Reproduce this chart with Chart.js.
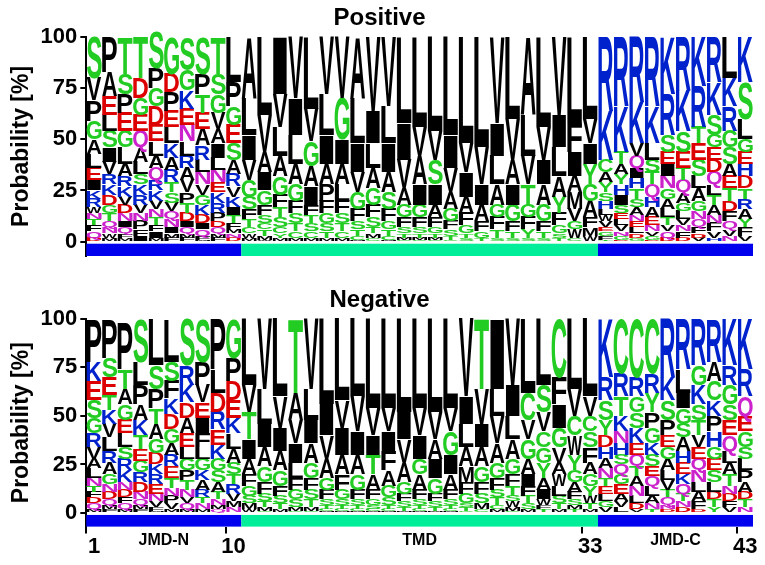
<!DOCTYPE html>
<html>
<head>
<meta charset="utf-8">
<script src="https://cdn.jsdelivr.net/npm/chart.js@4"></script>
<style>
  body { margin: 0; background: #fff; }
  .box { width: 765px; height: 282px; position: relative; }
</style>
</head>
<body>
<div class="box"><canvas id="pos"></canvas></div>
<div class="box"><canvas id="neg"></canvas></div>
<script>
const positions = Array.from({length: 43}, (_, i) => String(i + 1));
const tickLabels = ["1", "10", "33", "43"];
const regions = [["JMD-N", 1, 10, "#0000ee"], ["TMD", 11, 33, "#00ee99"], ["JMD-C", 34, 43, "#0000ee"]];

// letter + probability [%] per position
const positiveLetters = [
  "S20 V11 P10 G9 L7 E6 A7 I5 Q3 R4 K4 F3 T3 N3 D2 W3",
  "P17 A12 E9 S8 I7 L8 V6 D5 K5 R5 T4 G4 N3 Q3 M2 W2",
  "T18 E9 S10 L8 G8 P9 A6 K5 R5 N4 D4 V4 Q3 I3 M2 F2",
  "T20 Q8 D10 E8 G8 A7 L6 R5 K5 S5 P4 N4 V4 I3 F3",
  "S18 P10 D9 G9 E8 Q6 L7 A6 K5 R5 T4 N4 V4 I3 F3 M2",
  "G18 P9 L8 D9 E8 K7 R6 A6 S5 T5 N4 Q4 V4 I3 F2 M2",
  "S16 G10 K9 N8 E8 L7 V6 A6 R6 T5 P5 D4 Q3 I3 F2 M2",
  "S18 P10 A8 T9 E8 R7 N6 L6 K5 G5 V5 D4 Q3 I3 F2 M1",
  "T18 S10 V8 I7 G9 A7 N6 L6 R5 K5 E5 P4 Q3 D3 F2 M2",
  "L22 P12 E9 S8 G9 A7 R6 K5 V5 T4 I4 F3 D2 N2 M2",
  "A30 L18 I12 V10 G8 S6 F5 T4 C3 M2 W2",
  "L38 V18 A10 I9 G7 F5 S4 T3 C3 M2 W1",
  "I28 V16 L14 A10 G9 F6 S5 T5 C3 M2 Y2",
  "V30 I18 L14 A10 G8 F6 S5 T4 C3 M2",
  "L35 V16 G12 A10 I9 F5 S4 T4 C3 M2",
  "V28 L20 I14 P8 A10 F6 G5 S4 T3 M2",
  "V30 G20 I12 A10 L8 F6 S5 T4 C3 M2",
  "A30 L22 I14 V10 G8 F6 S4 T3 C2 M1",
  "V36 I16 L12 A10 G8 F6 S5 T3 C2 M2",
  "V34 L18 I14 A10 S8 F6 G4 T3 C2 M1",
  "L42 I18 V14 A8 G6 F5 S3 T2 C1 M1",
  "L44 A14 V14 I10 G6 F5 S3 T2 C1 M1",
  "L46 S12 V14 I10 A6 F5 G3 T2 C1 M1",
  "L48 I16 V12 A8 G6 F4 S3 T2 C1",
  "L52 V14 I12 A8 F6 G4 S2 T2",
  "L54 V18 I10 A8 F5 G3 T2",
  "V42 I16 L14 A10 F6 G6 T4 S2",
  "L40 V20 A12 I10 G8 F5 T3 S2",
  "A38 L20 V14 T10 F6 G6 Y4 S2",
  "L44 V16 I12 A10 G8 F5 T3 S2",
  "V38 I16 L14 A10 Y8 F6 G4 T2 S2",
  "L42 F14 I12 M8 A8 V6 W4 G4 C2",
  "L40 V12 Y10 I10 A8 G8 F5 M4 W3",
  "R36 K24 C6 Y5 A5 H4 S4 V3 W3 L3 F2 G2 E2 T1",
  "R34 K22 I5 T6 H5 Y5 A5 S4 V3 L3 E3 G2 N2 D1",
  "R32 K20 Q6 V6 T5 H5 I5 A4 S4 L3 E3 N3 G2 D2",
  "R34 K18 L8 Q6 T6 S6 A5 H5 E4 N3 G2 V2 D1",
  "K28 R20 N6 S8 I6 E6 A5 G5 T4 L4 Q3 V3 D2",
  "R26 K20 S10 E8 Q6 T6 A5 L4 G4 F3 N3 V3 D2",
  "K24 R20 S8 E8 T8 A6 L6 G5 Q4 N4 F3 V2 D2",
  "R22 K16 Q6 S10 D6 E6 G6 A5 T5 L5 F4 N4 V3 H2",
  "L20 K14 R12 S8 G8 T6 E6 A6 F5 D5 Q4 N3 V3",
  "K22 S18 L10 D6 H6 E6 G6 A5 R5 T5 F4 Y4 V3"
];
const negativeLetters = [
  "P22 E10 K10 S9 R7 G8 V6 L5 A5 N4 Q3 D3 F3 T3 M2",
  "P20 E9 S10 T8 L7 V7 K7 A6 R6 G5 D4 N4 Q3 F2 M2",
  "P24 G8 T10 A8 L7 E7 K6 R6 S6 D4 N4 Q3 F3 M2",
  "S22 L12 P10 K8 A8 T7 G6 E6 D5 R5 N4 Q3 F2 M2",
  "L24 S12 P10 A8 T8 G7 D6 E5 R5 K5 N4 V3 F2 M1",
  "L22 S10 F9 D8 K8 G7 E6 R6 A6 T5 P4 N4 V3 M2",
  "S24 R10 K9 A8 D8 E7 G6 L6 T5 P5 N4 Q3 V3 M2",
  "S22 P12 V9 I8 E8 F7 G6 L6 A5 K5 R4 N3 T3 M2",
  "P26 L12 R9 D10 E8 K7 S6 G6 A5 T4 N3 Q2 M2",
  "G20 P12 D10 E9 L8 K8 A7 S6 R5 T5 V4 N3 M3",
  "L34 T14 V14 I10 A8 F6 G5 S4 M3 W2",
  "V36 L18 I12 A10 G8 F6 S4 T3 M2 C1",
  "L40 V16 I12 A10 G8 F5 S4 T3 M2",
  "T38 A14 V12 I10 L8 F6 G5 S4 M2 C1",
  "V36 L16 I12 A10 G8 F6 S5 T4 M2 C1",
  "L44 I16 V12 A10 G6 F5 S3 T2 M1 C1",
  "L42 I14 V14 A10 F8 G5 S3 T2 M1 C1",
  "L40 V18 I12 A10 G8 F5 S3 T2 M1 C1",
  "L46 V14 T10 I10 A8 F5 G3 S2 M1 C1",
  "L46 V12 F10 I10 A8 G6 S4 T2 M1 C1",
  "L48 I14 V12 A10 G6 F4 S3 T2 M1",
  "L46 V14 I12 A8 G8 F5 S3 T2 M1 C1",
  "L48 V14 I10 A10 G8 F4 S3 T2 M1",
  "L46 G12 V12 I10 A8 F5 S3 T2 M1 C1",
  "V40 I14 L12 A10 M8 F6 G5 T2 S2 C1",
  "T36 V18 I12 A10 G8 F6 S5 M3 C2",
  "I36 V14 L14 A10 G8 F6 T4 S4 M2 C2",
  "V34 I16 L12 A10 G8 F6 T5 W3 S3 M2 C1",
  "L38 C14 G10 V10 A8 I6 F5 T4 S3 M2",
  "L34 S14 V10 Y8 G8 C8 A6 I5 W3 T2 F2",
  "C30 F14 I12 G10 V8 W6 A6 L5 S4 T3 M2",
  "L36 V14 W10 C10 Y8 G6 A5 F4 S3 T2 M2",
  "L40 V10 F8 S8 C8 G6 A6 Y5 W4 T3 M2",
  "K30 R12 S10 Y8 H6 D6 N5 A5 L4 E4 T4 V3 G3",
  "C28 R12 T10 K8 H6 N6 E5 G5 Q5 S5 A4 L3 V3",
  "C30 R10 K8 S8 G8 Q6 E6 N5 A5 T5 L4 D3 V2",
  "C28 Y10 R10 G8 P8 S6 K6 L5 Q5 E5 A4 N3 T2",
  "R30 K12 S10 P8 A6 G6 E6 V5 L5 Q4 T4 D2 N2",
  "R26 L12 G8 I8 A7 S7 E6 H6 Q5 K5 T4 D3 N3",
  "R24 K10 G10 T8 S8 N6 Q6 E6 V6 A5 L5 F4 D2",
  "R22 C10 A10 H8 P8 K8 S6 E6 G6 L5 T4 D4 Y3",
  "K24 G10 R10 Q8 E8 S8 T6 A6 L6 D4 N4 V3 F3",
  "K26 R14 Q10 G8 E8 P6 L6 S6 A5 T4 D4 N3"
];

const colorOf = {};
"STGYC".split("").forEach(c => colorOf[c] = "#22cc22");
"KRH".split("").forEach(c => colorOf[c] = "#0022cc");
"DE".split("").forEach(c => colorOf[c] = "#dd0000");
"NQ".split("").forEach(c => colorOf[c] = "#cc22cc");

function parse(list) {
  return list.map(s => s.split(" ").map(t => ({ l: t[0], p: +t.slice(1) }))
    .sort((a, b) => a.p - b.p));
}

const logoPlugin = {
  id: "logo",
  afterDatasetsDraw(chart) {
    const ctx = chart.ctx;
    const cols = chart.options.plugins.logo.cols;
    ctx.save();
    ctx.font = "bold 100px 'Liberation Sans', Arial";
    ctx.textBaseline = "alphabetic";
    chart.data.datasets.forEach((ds, k) => {
      chart.getDatasetMeta(k).data.forEach((bar, i) => {
        const e = cols[i][k];
        if (!e) return;
        const h = bar.base - bar.y;
        if (h < 0.4) return;
        const m = ctx.measureText(e.l);
        const asc = m.actualBoundingBoxAscent;
        const w = bar.width;
        ctx.save();
        ctx.translate(bar.x - w / 2, bar.base);
        ctx.scale(w / (m.actualBoundingBoxLeft + m.actualBoundingBoxRight), h / asc);
        ctx.fillStyle = colorOf[e.l] || "#000";
        ctx.fillText(e.l, m.actualBoundingBoxLeft, 0);
        ctx.restore();
      });
    });
    // region bar
    const x = chart.scales.x, y = chart.scales.y;
    const step = x.getPixelForValue(1) - x.getPixelForValue(0);
    regions.forEach(([name, a, b, col]) => {
      const x0 = x.getPixelForValue(a - 1) - step / 2, x1 = x.getPixelForValue(b - 1) + step / 2;
      ctx.fillStyle = col;
      ctx.fillRect(x0, y.getPixelForValue(-1), x1 - x0, y.getPixelForValue(-7) - y.getPixelForValue(-1));
      if (chart.options.plugins.logo.names) {
        ctx.fillStyle = "#000";
        ctx.font = "bold 16px 'Liberation Sans', Arial";
        ctx.textAlign = "center";
        ctx.textBaseline = "top";
        ctx.fillText(name, (x0 + x1) / 2, y.bottom + 6);
        ctx.font = "bold 100px 'Liberation Sans', Arial";
        ctx.textAlign = "start";
        ctx.textBaseline = "alphabetic";
      }
    });
    ctx.restore();
  }
};

function makeChart(id, title, letters, showX) {
  const cols = parse(letters);
  const depth = Math.max(...cols.map(c => c.length));
  const datasets = [];
  for (let k = 0; k < depth; k++) {
    datasets.push({
      data: cols.map(c => c[k] ? c[k].p : 0),
      backgroundColor: "rgba(0,0,0,0)",
      categoryPercentage: 1, barPercentage: 0.96
    });
  }
  const tickFont = { family: "'Liberation Sans', Arial", weight: "bold", size: 22 };
  new Chart(document.getElementById(id), {
    type: "bar",
    data: { labels: positions, datasets },
    plugins: [logoPlugin],
    options: {
      responsive: true, maintainAspectRatio: false, animation: false,
      layout: { padding: { left: 6, right: 12, top: 0, bottom: showX ? 4 : 26 } },
      plugins: {
        legend: { display: false }, tooltip: { enabled: false },
        title: { display: true, text: title, color: "#000", padding: { top: 4, bottom: 4 },
          font: { family: "'Liberation Sans', Arial", weight: "bold", size: 24 } },
        logo: { cols, names: showX }
      },
      scales: {
        x: {
          stacked: true, display: showX,
          border: { display: false },
          grid: { drawOnChartArea: false, tickLength: 7, lineWidth: 2,
            color: c => tickLabels.includes(positions[c.index]) ? "#000" : "rgba(0,0,0,0)" },
          ticks: { autoSkip: false, maxRotation: 0, color: "#000", font: tickFont, padding: 0,
            callback: (v, i) => tickLabels.includes(positions[i]) ? positions[i] : "" }
        },
        y: {
          stacked: true, min: -7, max: 100,
          afterBuildTicks: s => { s.ticks = [0, 25, 50, 75, 100].map(v => ({ value: v })); },
          border: { display: true, color: "#000", width: 2 },
          grid: { drawOnChartArea: false, tickLength: 6, lineWidth: 2, color: "#000" },
          ticks: { color: "#000", font: tickFont, padding: 3 },
          title: { display: true, text: "Probability [%]", color: "#000", padding: 2,
            font: { family: "'Liberation Sans', Arial", weight: "bold", size: 23 } }
        }
      }
    }
  });
}

makeChart("pos", "Positive", positiveLetters, false);
makeChart("neg", "Negative", negativeLetters, true);
</script>
</body>
</html>
